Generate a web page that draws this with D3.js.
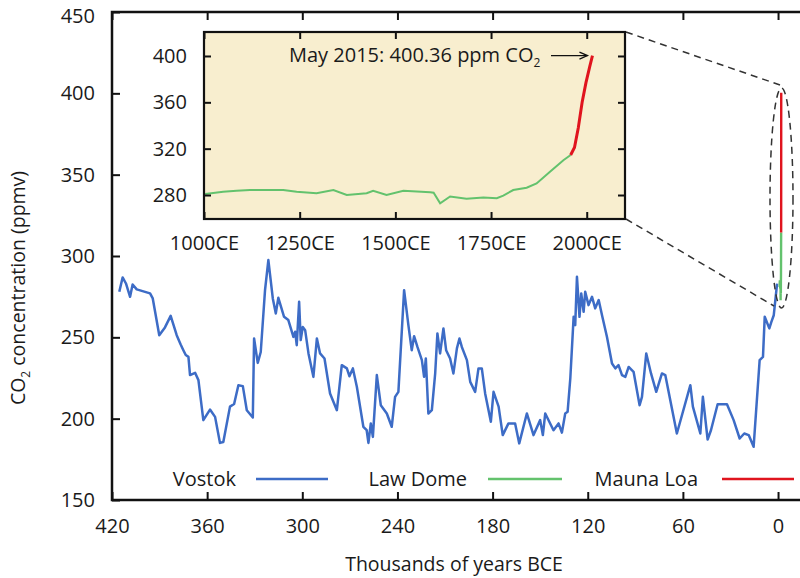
<!DOCTYPE html>
<html><head><meta charset="utf-8">
<script src="https://cdn.jsdelivr.net/npm/d3@7"></script>
<style>body{margin:0;background:#fff}svg{display:block}text{font-family:"Open Sans",sans-serif;fill:#1a1a1a}</style>
</head><body>
<script>
// Vostok ice core: [thousands of years BCE, ppmv]
const vostokKyr = [415.4,413.3,411.2,408.6,407.0,404.4,396.0,394.3,390.2,386.6,383.0,379.2,376.7,375.0,373.5,371.8,370.8,367.6,365.5,362.4,358.2,355.0,351.9,349.8,345.6,343.0,340.3,337.5,335.0,331.2,330.4,328.1,326.2,323.5,321.4,318.6,316.7,315.1,311.5,308.8,305.6,304.5,303.5,302.0,301.0,299.7,298.2,296.1,293.0,290.8,288.8,286.0,282.5,278.2,275.1,271.9,270.3,268.1,265.6,261.5,259.4,258.3,256.8,255.5,253.0,250.5,246.7,243.6,241.5,239.4,235.8,233.1,231.0,229.5,227.4,224.6,223.2,222.1,220.5,218.3,216.2,214.8,213.1,211.0,209.3,206.8,204.7,202.5,200.9,199.4,196.2,194.1,191.0,188.9,186.8,184.7,181.1,179.4,176.2,173.6,170.0,165.8,163.2,158.4,154.2,150.0,148.3,146.8,141.6,138.4,136.3,134.2,132.7,131.0,128.9,127.9,126.8,125.2,124.1,122.6,121.6,119.5,117.3,115.3,113.1,111.0,107.9,104.7,102.6,100.6,98.4,96.3,94.2,91.1,87.3,85.8,83.1,80.1,76.8,73.2,71.1,63.8,55.3,53.7,49.0,47.4,44.4,42.3,38.1,32.2,28.0,24.2,21.3,18.5,15.4,11.6,9.5,8.4,5.5,4.2,2.7,0.6];
const vostokPpm = [278.0,286.8,283.1,274.9,282.5,279.5,277.0,273.9,251.3,256.1,263.2,251.3,245.6,242.1,239.1,238.0,226.8,228.2,223.7,199.1,205.6,201.1,185.1,185.7,207.4,209.0,220.6,220.0,205.2,200.7,249.3,234.3,241.0,279.0,297.5,273.9,264.7,274.3,262.6,260.6,250.3,253.4,245.2,271.8,248.3,256.4,254.4,240.1,225.7,249.3,240.1,237.0,215.5,205.2,232.9,230.9,226.1,230.9,219.6,195.0,192.9,185.1,197.1,188.8,226.8,208.3,203.2,195.0,213.4,216.5,279.0,257.5,242.1,250.7,244.1,236.0,225.7,237.0,203.2,205.2,227.8,252.4,240.1,255.5,242.1,237.0,227.8,243.2,249.3,244.1,236.0,222.6,216.5,230.9,230.9,215.5,198.1,216.5,207.4,189.9,197.1,197.1,184.8,203.2,189.9,199.1,189.9,203.2,192.9,197.1,191.4,203.2,204.2,224.7,262.6,257.5,287.2,262.6,277.0,265.7,278.0,269.8,274.9,267.8,272.9,263.6,250.3,233.9,230.9,232.9,226.8,225.7,231.8,228.8,208.3,213.4,240.1,227.8,216.5,227.8,226.8,190.9,220.6,207.4,190.9,213.4,187.2,192.9,208.9,208.9,199.1,187.8,190.9,189.9,182.7,236.0,238.0,262.6,255.5,259.5,263.6,283.0];
// Law Dome ice core: [year CE, ppmv]
const lawDomeYear = [1003,1050,1085,1120,1207,1242,1294,1338,1373,1425,1442,1477,1521,1591,1600,1617,1643,1686,1730,1765,1782,1808,1843,1869,1904,1939,1958];
const lawDomePpm = [280.9,282.9,283.7,284.3,284.3,282.9,281.5,284.3,280.0,281.5,283.7,280.0,283.7,282.3,282.0,272.8,278.7,276.7,277.8,277.2,279.5,284.3,286.3,290.0,300.0,310.0,314.5];
// Mauna Loa: [year CE, ppmv]
const maunaLoaYear = [1958,1968,1978,1988,1998,2008,2015];
const maunaLoaPpm = [314.5,321,338,360,377,391,400.36];

const mainXTicks = [420,360,300,240,180,120,60,0];
const mainYTicks = [150,200,250,300,350,400,450];
const insetXTicks = [1000,1250,1500,1750,2000];
const insetYTicks = [280,320,360,400];
const seriesNames = ["Vostok","Law Dome","Mauna Loa"];
const seriesColors = ["#3d6cc6","#63c26d","#e0141e"];

const W=800,H=578;
const svg=d3.select("body").append("svg").attr("width",W).attr("height",H);
const x=d3.scaleLinear().domain([420,-17]).range([112,805]);
const y=d3.scaleLinear().domain([150,450]).range([500,12]);

const vostok=vostokKyr.map((k,i)=>[k,vostokPpm[i]]);
const law=lawDomeYear.map((yr,i)=>[-yr/1000,lawDomePpm[i]]);
const mauna=maunaLoaYear.map((yr,i)=>[-yr/1000,maunaLoaPpm[i]]);
const line=d3.line().x(d=>x(d[0])).y(d=>y(d[1]));

// main series
svg.append("path").datum(vostok).attr("d",line).attr("fill","none").attr("stroke",seriesColors[0]).attr("stroke-width",2.5).attr("stroke-linejoin","round");
svg.append("path").datum(law).attr("d",line).attr("fill","none").attr("stroke",seriesColors[1]).attr("stroke-width",2.4);
svg.append("path").datum(mauna).attr("d",line).attr("fill","none").attr("stroke",seriesColors[2]).attr("stroke-width",2.4);

// axes (inward ticks)
const fs="20px";
const gL=svg.append("g").attr("transform","translate(112,0)").call(d3.axisLeft(y).tickValues(mainYTicks).tickSize(-8).tickPadding(17));
const gB=svg.append("g").attr("transform","translate(0,500)").call(d3.axisBottom(x).tickValues(mainXTicks).tickSize(-8).tickPadding(19));
const gT=svg.append("g").attr("transform","translate(0,12)").call(d3.axisTop(x).tickValues(mainXTicks).tickSize(-8).tickFormat(""));
[gL,gB,gT].forEach(g=>{g.select(".domain").remove();g.selectAll("line").attr("stroke","#111").attr("stroke-width",2);g.selectAll("text").style("font-size",fs).attr("fill","#1a1a1a").style("font-family","'Open Sans',sans-serif");});
// keep the top label inside the page
gL.selectAll(".tick text").filter(d=>d===450).attr("dy","0.5em");
svg.append("rect").attr("x",112).attr("y",12).attr("width",693).attr("height",488).attr("fill","none").attr("stroke","#111").attr("stroke-width",2.5);

// axis titles
svg.append("text").attr("x",454).attr("y",571).attr("text-anchor","middle").style("font-size","19.5px").text("Thousands of years BCE");
const yt=svg.append("text").attr("transform","translate(25,288) rotate(-90)").attr("text-anchor","middle").style("font-size","19.5px");
yt.append("tspan").text("CO");
yt.append("tspan").text("2").style("font-size","12px").attr("dy",5);
yt.append("tspan").text(" concentration (ppmv)").attr("dy",-5);

// legend
const legY=479;
const legTextX=[236,467,698], legLine=[[256,328],[488,562],[722,794]];
seriesNames.forEach((n,i)=>{
  svg.append("text").attr("x",legTextX[i]).attr("y",legY+7).attr("text-anchor","end").style("font-size",fs).text(n);
  svg.append("line").attr("x1",legLine[i][0]).attr("x2",legLine[i][1]).attr("y1",legY).attr("y2",legY).attr("stroke",seriesColors[i]).attr("stroke-width",2.4);
});

// zoom indicators
const dash="7,5";
svg.append("ellipse").attr("cx",781.5).attr("cy",198).attr("rx",11.5).attr("ry",110).attr("fill","none").attr("stroke","#333").attr("stroke-width",1.5).attr("stroke-dasharray",dash);
svg.append("line").attr("x1",626).attr("y1",32).attr("x2",780).attr("y2",85).attr("stroke","#333").attr("stroke-width",1.5).attr("stroke-dasharray",dash);
svg.append("line").attr("x1",626).attr("y1",219).attr("x2",774).attr("y2",306).attr("stroke","#333").attr("stroke-width",1.5).attr("stroke-dasharray",dash);

// inset
const ix=d3.scaleLinear().domain([1000,2100]).range([204,625]);
const iy=d3.scaleLinear().domain([259.3,420.7]).range([219,32]);
svg.append("rect").attr("x",204).attr("y",32).attr("width",421).attr("height",187).attr("fill","#f8eecf");
const iline=d3.line().x(d=>ix(d[0])).y(d=>iy(d[1]));
svg.append("path").datum(lawDomeYear.map((yr,i)=>[yr,lawDomePpm[i]])).attr("d",iline).attr("fill","none").attr("stroke",seriesColors[1]).attr("stroke-width",2);
svg.append("path").datum(maunaLoaYear.map((yr,i)=>[yr,maunaLoaPpm[i]])).attr("d",iline).attr("fill","none").attr("stroke",seriesColors[2]).attr("stroke-width",3);
const iL=svg.append("g").attr("transform","translate(204,0)").call(d3.axisLeft(iy).tickValues(insetYTicks).tickSize(-7).tickPadding(17));
const iR=svg.append("g").attr("transform","translate(625,0)").call(d3.axisRight(iy).tickValues(insetYTicks).tickSize(-7).tickFormat(""));
const iB=svg.append("g").attr("transform","translate(0,219)").call(d3.axisBottom(ix).tickValues(insetXTicks).tickSize(-7).tickPadding(17).tickFormat(d=>d+"CE"));
const iT=svg.append("g").attr("transform","translate(0,32)").call(d3.axisTop(ix).tickValues(insetXTicks).tickSize(-7).tickFormat(""));
[iL,iR,iB,iT].forEach(g=>{g.select(".domain").remove();g.selectAll("line").attr("stroke","#111").attr("stroke-width",2);g.selectAll("text").style("font-size",fs).attr("fill","#1a1a1a").style("font-family","'Open Sans',sans-serif");});
svg.append("rect").attr("x",204).attr("y",32).attr("width",421).attr("height",187).attr("fill","none").attr("stroke","#111").attr("stroke-width",2.2);

// annotation
const ann=svg.append("text").attr("x",289).attr("y",62).style("font-size",fs);
ann.append("tspan").text("May 2015: 400.36 ppm CO");
ann.append("tspan").text("2").style("font-size","12px").attr("dy",5);
const last=maunaLoaYear.length-1;
const ax2=ix(maunaLoaYear[last])-5, ay=iy(maunaLoaPpm[last]);
svg.append("line").attr("x1",551).attr("y1",ay).attr("x2",ax2).attr("y2",ay).attr("stroke","#111").attr("stroke-width",1.3);
svg.append("path").attr("d",`M${ax2-8},${ay-3.5} L${ax2},${ay} L${ax2-8},${ay+3.5}`).attr("fill","none").attr("stroke","#111").attr("stroke-width",1.3);
</script>
</body></html>
